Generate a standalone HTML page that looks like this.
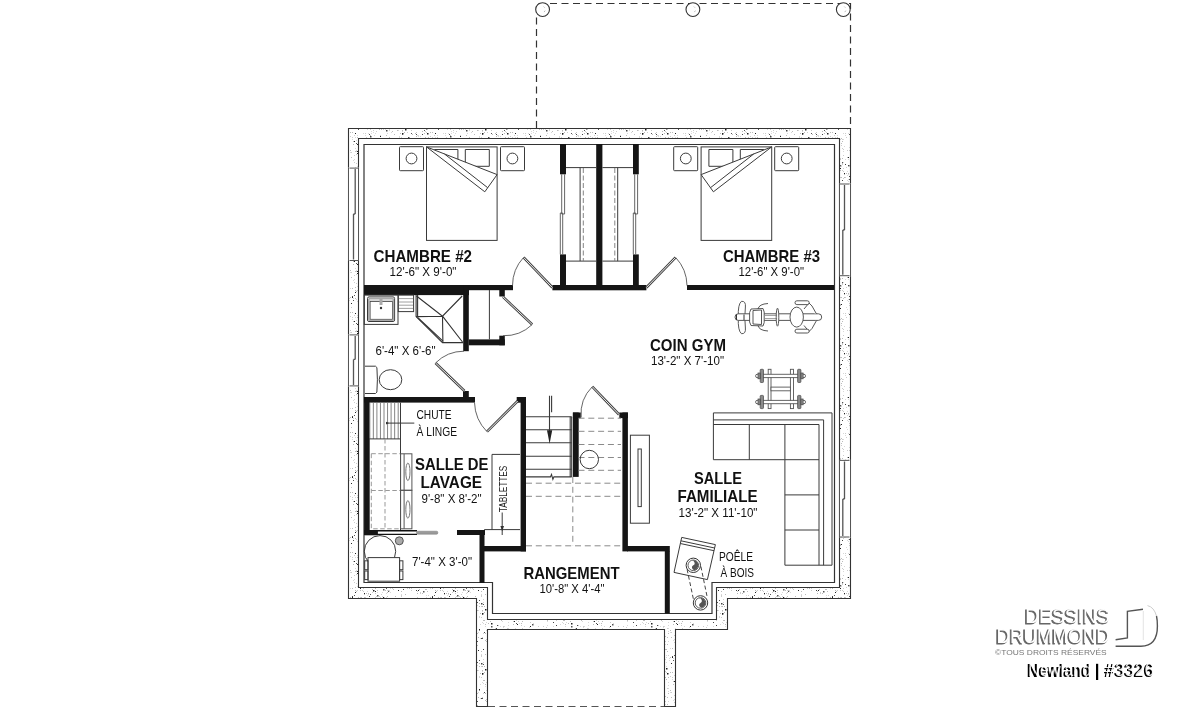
<!DOCTYPE html>
<html><head><meta charset="utf-8">
<style>
html,body{margin:0;padding:0;background:#fff;width:1200px;height:711px;overflow:hidden}
svg{position:absolute;left:0;top:0;will-change:transform}
text{font-family:"Liberation Sans",sans-serif}
.b{font-weight:bold;font-size:16.4px}
.d{font-size:12px}
.logo{position:absolute;font-family:"Liberation Sans",sans-serif}
</style></head><body>
<svg width="1200" height="711" viewBox="0 0 1200 711">
<defs>
<pattern id="conc" width="80" height="60" patternUnits="userSpaceOnUse">
<rect width="80" height="60" fill="#fff"/><rect x="57" y="55" width="1.5" height="1.5" fill="#555"/><rect x="57" y="32" width="1" height="1" fill="#555"/><rect x="23" y="51" width="1.5" height="1.5" fill="#555"/><rect x="78" y="50" width="1" height="1" fill="#222"/><rect x="57" y="19" width="1" height="1" fill="#222"/><rect x="68" y="51" width="1" height="1" fill="#555"/><rect x="76" y="25" width="1" height="1" fill="#444"/><rect x="79" y="0" width="1" height="1" fill="#555"/><rect x="7" y="2" width="1" height="1" fill="#222"/><rect x="76" y="1" width="1" height="1" fill="#444"/><rect x="56" y="37" width="1" height="1" fill="#222"/><rect x="37" y="31" width="1" height="1" fill="#222"/><rect x="58" y="41" width="1.5" height="1.5" fill="#444"/><rect x="70" y="59" width="1" height="1" fill="#222"/><rect x="40" y="48" width="1" height="1" fill="#222"/><rect x="3" y="4" width="1" height="1" fill="#555"/><rect x="51" y="6" width="1.5" height="1.5" fill="#444"/><rect x="8" y="1" width="1" height="1" fill="#555"/><rect x="27" y="13" width="1.5" height="1.5" fill="#222"/><rect x="48" y="45" width="1.5" height="1.5" fill="#444"/><rect x="9" y="36" width="1" height="1" fill="#555"/><rect x="34" y="21" width="1" height="1" fill="#222"/><rect x="42" y="0" width="1" height="1" fill="#444"/><rect x="17" y="15" width="1" height="1" fill="#555"/><rect x="1" y="3" width="1.5" height="1.5" fill="#444"/><rect x="22" y="43" width="1" height="1" fill="#555"/><rect x="57" y="32" width="1" height="1" fill="#222"/><rect x="53" y="41" width="1" height="1" fill="#444"/><rect x="50" y="26" width="1" height="1" fill="#222"/><rect x="34" y="55" width="1" height="1" fill="#555"/><rect x="2" y="13" width="1.5" height="1.5" fill="#222"/><rect x="77" y="41" width="1" height="1" fill="#555"/><rect x="5" y="9" width="1.5" height="1.5" fill="#222"/><rect x="33" y="0" width="1" height="1" fill="#555"/><rect x="37" y="24" width="1" height="1" fill="#222"/><rect x="11" y="13" width="1" height="1" fill="#555"/><rect x="1" y="38" width="1" height="1" fill="#444"/><rect x="79" y="29" width="1.5" height="1.5" fill="#222"/><rect x="73" y="8" width="1" height="1" fill="#444"/><rect x="19" y="19" width="1" height="1" fill="#222"/><rect x="24" y="10" width="1" height="1" fill="#555"/><rect x="49" y="56" width="1" height="1" fill="#444"/><rect x="53" y="3" width="1" height="1" fill="#222"/><rect x="4" y="32" width="1" height="1" fill="#444"/><rect x="50" y="16" width="1.5" height="1.5" fill="#444"/><rect x="37" y="33" width="1" height="1" fill="#222"/><rect x="16" y="14" width="1" height="1" fill="#444"/><rect x="35" y="13" width="1" height="1" fill="#222"/><rect x="8" y="17" width="1.5" height="1.5" fill="#444"/><rect x="31" y="3" width="1" height="1" fill="#222"/><rect x="36" y="23" width="1" height="1" fill="#555"/><rect x="11" y="23" width="1.5" height="1.5" fill="#222"/><rect x="42" y="42" width="1" height="1" fill="#555"/><rect x="75" y="2" width="1.5" height="1.5" fill="#222"/><rect x="45" y="44" width="1" height="1" fill="#444"/><rect x="2" y="38" width="1" height="1" fill="#555"/><rect x="61" y="4" width="1" height="1" fill="#555"/><rect x="40" y="8" width="1" height="1" fill="#222"/><rect x="57" y="34" width="1" height="1" fill="#444"/><rect x="16" y="50" width="1" height="1" fill="#444"/><rect x="10" y="43" width="1" height="1" fill="#444"/><rect x="53" y="50" width="1.5" height="1.5" fill="#222"/><rect x="73" y="0" width="1.5" height="1.5" fill="#555"/><rect x="48" y="37" width="1" height="1" fill="#222"/><rect x="10" y="5" width="1" height="1" fill="#555"/><rect x="32" y="56" width="1" height="1" fill="#444"/><rect x="49" y="59" width="1.5" height="1.5" fill="#555"/><rect x="56" y="29" width="1" height="1" fill="#555"/><rect x="66" y="48" width="1" height="1" fill="#555"/><rect x="39" y="38" width="1.5" height="1.5" fill="#222"/><rect x="2" y="14" width="1" height="1" fill="#555"/><rect x="63" y="49" width="1.5" height="1.5" fill="#555"/><rect x="32" y="57" width="1" height="1" fill="#222"/><rect x="38" y="9" width="1" height="1" fill="#555"/><rect x="66" y="10" width="1.5" height="1.5" fill="#444"/><rect x="63" y="57" width="1" height="1" fill="#222"/><rect x="51" y="42" width="1" height="1" fill="#444"/><rect x="55" y="51" width="1" height="1" fill="#222"/><rect x="49" y="14" width="1" height="1" fill="#555"/><rect x="26" y="8" width="1.5" height="1.5" fill="#222"/><rect x="44" y="53" width="1" height="1" fill="#222"/><rect x="35" y="52" width="1" height="1" fill="#222"/><rect x="57" y="30" width="1" height="1" fill="#444"/><rect x="52" y="24" width="1.5" height="1.5" fill="#555"/><rect x="40" y="45" width="1.5" height="1.5" fill="#555"/><rect x="41" y="4" width="1" height="1" fill="#222"/><rect x="77" y="2" width="1" height="1" fill="#555"/><rect x="73" y="22" width="1" height="1" fill="#444"/><rect x="17" y="25" width="1" height="1" fill="#444"/><rect x="3" y="49" width="1" height="1" fill="#444"/><rect x="18" y="50" width="1" height="1" fill="#222"/><rect x="57" y="6" width="1" height="1" fill="#555"/><rect x="9" y="43" width="1" height="1" fill="#222"/><rect x="60" y="16" width="1" height="1" fill="#222"/><rect x="60" y="34" width="1" height="1" fill="#555"/><rect x="22" y="14" width="1" height="1" fill="#444"/><rect x="69" y="44" width="1" height="1" fill="#555"/><rect x="50" y="54" width="1" height="1" fill="#555"/><rect x="11" y="26" width="1.5" height="1.5" fill="#555"/><rect x="16" y="28" width="1" height="1" fill="#444"/><rect x="0" y="24" width="1" height="1" fill="#d8d8d8"/><rect x="72" y="41" width="1" height="1" fill="#d8d8d8"/><rect x="43" y="29" width="1" height="1" fill="#ccc"/><rect x="26" y="6" width="1" height="1" fill="#d8d8d8"/><rect x="15" y="13" width="1" height="1" fill="#bbb"/><rect x="49" y="5" width="1" height="1" fill="#ccc"/><rect x="68" y="50" width="1" height="1" fill="#ccc"/><rect x="33" y="58" width="1" height="1" fill="#d8d8d8"/><rect x="2" y="22" width="1" height="1" fill="#d8d8d8"/><rect x="10" y="2" width="1" height="1" fill="#ccc"/><rect x="43" y="35" width="1" height="1" fill="#ccc"/><rect x="35" y="31" width="1" height="1" fill="#bbb"/><rect x="27" y="51" width="1" height="1" fill="#bbb"/><rect x="54" y="51" width="1" height="1" fill="#bbb"/><rect x="22" y="34" width="1" height="1" fill="#ccc"/><rect x="17" y="30" width="1" height="1" fill="#bbb"/><rect x="66" y="57" width="1" height="1" fill="#d8d8d8"/><rect x="66" y="53" width="1" height="1" fill="#d8d8d8"/><rect x="56" y="56" width="1" height="1" fill="#ccc"/><rect x="74" y="44" width="1" height="1" fill="#bbb"/><rect x="28" y="28" width="1" height="1" fill="#d8d8d8"/><rect x="71" y="18" width="1" height="1" fill="#d8d8d8"/><rect x="71" y="40" width="1" height="1" fill="#bbb"/><rect x="66" y="32" width="1" height="1" fill="#d8d8d8"/><rect x="32" y="19" width="1" height="1" fill="#d8d8d8"/><rect x="48" y="54" width="1" height="1" fill="#d8d8d8"/><rect x="26" y="19" width="1" height="1" fill="#bbb"/><rect x="69" y="33" width="1" height="1" fill="#ccc"/><rect x="73" y="31" width="1" height="1" fill="#bbb"/><rect x="52" y="34" width="1" height="1" fill="#bbb"/><rect x="64" y="0" width="1" height="1" fill="#d8d8d8"/><rect x="48" y="1" width="1" height="1" fill="#d8d8d8"/><rect x="5" y="33" width="1" height="1" fill="#ccc"/><rect x="69" y="51" width="1" height="1" fill="#d8d8d8"/><rect x="15" y="31" width="1" height="1" fill="#bbb"/><rect x="21" y="4" width="1" height="1" fill="#d8d8d8"/><rect x="58" y="26" width="1" height="1" fill="#ccc"/><rect x="34" y="15" width="1" height="1" fill="#ccc"/><rect x="63" y="8" width="1" height="1" fill="#ccc"/><rect x="55" y="57" width="1" height="1" fill="#ccc"/><rect x="67" y="20" width="1" height="1" fill="#bbb"/><rect x="24" y="26" width="1" height="1" fill="#d8d8d8"/><rect x="3" y="59" width="1" height="1" fill="#ccc"/><rect x="16" y="44" width="1" height="1" fill="#bbb"/><rect x="4" y="12" width="1" height="1" fill="#bbb"/><rect x="29" y="0" width="1" height="1" fill="#d8d8d8"/><rect x="36" y="20" width="1" height="1" fill="#d8d8d8"/><rect x="45" y="15" width="1" height="1" fill="#d8d8d8"/><rect x="63" y="6" width="1" height="1" fill="#ccc"/><rect x="74" y="7" width="1" height="1" fill="#d8d8d8"/><rect x="79" y="16" width="1" height="1" fill="#d8d8d8"/><rect x="25" y="44" width="1" height="1" fill="#d8d8d8"/><rect x="55" y="1" width="1" height="1" fill="#ccc"/><rect x="52" y="52" width="1" height="1" fill="#d8d8d8"/><rect x="78" y="10" width="1" height="1" fill="#d8d8d8"/><rect x="26" y="55" width="1" height="1" fill="#d8d8d8"/><rect x="68" y="40" width="1" height="1" fill="#bbb"/><rect x="67" y="13" width="1" height="1" fill="#d8d8d8"/><rect x="78" y="37" width="1" height="1" fill="#bbb"/><rect x="29" y="58" width="1" height="1" fill="#d8d8d8"/><rect x="44" y="57" width="1" height="1" fill="#bbb"/><rect x="40" y="38" width="1" height="1" fill="#ccc"/><rect x="24" y="13" width="1" height="1" fill="#bbb"/><rect x="12" y="8" width="1" height="1" fill="#bbb"/><rect x="16" y="46" width="1" height="1" fill="#bbb"/><rect x="33" y="24" width="1" height="1" fill="#bbb"/><rect x="55" y="53" width="1" height="1" fill="#ccc"/><rect x="69" y="50" width="1" height="1" fill="#d8d8d8"/><rect x="16" y="12" width="1" height="1" fill="#ccc"/><rect x="2" y="6" width="1" height="1" fill="#bbb"/><rect x="72" y="43" width="1" height="1" fill="#ccc"/><rect x="46" y="7" width="1" height="1" fill="#d8d8d8"/><rect x="64" y="40" width="1" height="1" fill="#ccc"/><rect x="64" y="43" width="1" height="1" fill="#bbb"/><rect x="9" y="30" width="1" height="1" fill="#bbb"/><rect x="3" y="2" width="1" height="1" fill="#d8d8d8"/><rect x="78" y="32" width="1" height="1" fill="#d8d8d8"/><rect x="61" y="9" width="1" height="1" fill="#bbb"/><rect x="23" y="7" width="1" height="1" fill="#bbb"/><rect x="22" y="53" width="1" height="1" fill="#bbb"/><rect x="36" y="59" width="1" height="1" fill="#d8d8d8"/><rect x="12" y="37" width="1" height="1" fill="#bbb"/><rect x="17" y="43" width="1" height="1" fill="#ccc"/><rect x="9" y="48" width="1" height="1" fill="#bbb"/><rect x="41" y="25" width="1" height="1" fill="#ccc"/><rect x="54" y="32" width="1" height="1" fill="#ccc"/><rect x="55" y="13" width="1" height="1" fill="#d8d8d8"/><rect x="47" y="0" width="1" height="1" fill="#d8d8d8"/><rect x="5" y="54" width="1" height="1" fill="#bbb"/><rect x="23" y="26" width="1" height="1" fill="#ccc"/><rect x="46" y="47" width="1" height="1" fill="#ccc"/><rect x="51" y="58" width="1" height="1" fill="#bbb"/><rect x="77" y="10" width="1" height="1" fill="#bbb"/><rect x="65" y="50" width="1" height="1" fill="#bbb"/><rect x="41" y="57" width="1" height="1" fill="#bbb"/><rect x="51" y="36" width="1" height="1" fill="#d8d8d8"/><rect x="24" y="32" width="1" height="1" fill="#d8d8d8"/><rect x="43" y="51" width="1" height="1" fill="#ccc"/><rect x="35" y="58" width="1" height="1" fill="#bbb"/><rect x="20" y="52" width="1" height="1" fill="#ccc"/><rect x="17" y="57" width="1" height="1" fill="#ccc"/><rect x="68" y="44" width="1" height="1" fill="#ccc"/><rect x="55" y="48" width="1" height="1" fill="#bbb"/><rect x="51" y="13" width="1" height="1" fill="#d8d8d8"/><rect x="23" y="4" width="1" height="1" fill="#ccc"/><rect x="38" y="30" width="1" height="1" fill="#bbb"/><rect x="1" y="56" width="1" height="1" fill="#ccc"/><rect x="79" y="3" width="1" height="1" fill="#bbb"/><rect x="34" y="42" width="1" height="1" fill="#ccc"/><rect x="43" y="13" width="1" height="1" fill="#d8d8d8"/><rect x="51" y="36" width="1" height="1" fill="#bbb"/><rect x="68" y="4" width="1" height="1" fill="#ccc"/><rect x="65" y="31" width="1" height="1" fill="#d8d8d8"/><rect x="27" y="44" width="1" height="1" fill="#bbb"/><rect x="50" y="36" width="1" height="1" fill="#bbb"/><rect x="14" y="39" width="1" height="1" fill="#bbb"/><rect x="30" y="16" width="1" height="1" fill="#ccc"/><rect x="51" y="32" width="1" height="1" fill="#bbb"/><rect x="25" y="41" width="1" height="1" fill="#ccc"/><rect x="1" y="6" width="1" height="1" fill="#ccc"/><rect x="32" y="17" width="1" height="1" fill="#ccc"/><rect x="70" y="34" width="1" height="1" fill="#d8d8d8"/><rect x="53" y="33" width="1" height="1" fill="#d8d8d8"/><rect x="12" y="40" width="1" height="1" fill="#ccc"/><rect x="9" y="35" width="1" height="1" fill="#d8d8d8"/><rect x="5" y="24" width="1" height="1" fill="#bbb"/><rect x="49" y="30" width="1" height="1" fill="#bbb"/><rect x="63" y="34" width="1" height="1" fill="#d8d8d8"/><rect x="76" y="3" width="1" height="1" fill="#ccc"/><rect x="63" y="26" width="1" height="1" fill="#ccc"/><rect x="67" y="25" width="1" height="1" fill="#d8d8d8"/><rect x="39" y="23" width="1" height="1" fill="#d8d8d8"/><rect x="36" y="30" width="1" height="1" fill="#d8d8d8"/><rect x="34" y="35" width="1" height="1" fill="#ccc"/><rect x="37" y="1" width="1" height="1" fill="#bbb"/><rect x="31" y="37" width="1" height="1" fill="#bbb"/><rect x="20" y="26" width="1" height="1" fill="#d8d8d8"/><rect x="49" y="3" width="1" height="1" fill="#ccc"/><rect x="50" y="3" width="1" height="1" fill="#d8d8d8"/><rect x="40" y="4" width="1" height="1" fill="#bbb"/><rect x="54" y="46" width="1" height="1" fill="#ccc"/><rect x="32" y="48" width="1" height="1" fill="#bbb"/><rect x="5" y="33" width="1" height="1" fill="#bbb"/><rect x="59" y="9" width="1" height="1" fill="#bbb"/><rect x="77" y="45" width="1" height="1" fill="#bbb"/><rect x="6" y="39" width="1" height="1" fill="#ccc"/><rect x="58" y="7" width="1" height="1" fill="#bbb"/><rect x="6" y="22" width="1" height="1" fill="#d8d8d8"/><rect x="19" y="7" width="1" height="1" fill="#ccc"/><rect x="56" y="8" width="1" height="1" fill="#d8d8d8"/><rect x="53" y="29" width="1" height="1" fill="#d8d8d8"/><rect x="33" y="40" width="1" height="1" fill="#d8d8d8"/><rect x="53" y="23" width="1" height="1" fill="#d8d8d8"/><rect x="67" y="52" width="1" height="1" fill="#bbb"/><rect x="37" y="46" width="1" height="1" fill="#bbb"/><rect x="30" y="30" width="1" height="1" fill="#bbb"/><rect x="64" y="57" width="1" height="1" fill="#ccc"/><rect x="64" y="39" width="1" height="1" fill="#ccc"/><rect x="35" y="17" width="1" height="1" fill="#d8d8d8"/><rect x="72" y="44" width="1" height="1" fill="#d8d8d8"/><rect x="24" y="40" width="1" height="1" fill="#ccc"/><rect x="30" y="12" width="1" height="1" fill="#bbb"/><rect x="64" y="41" width="1" height="1" fill="#bbb"/><rect x="5" y="40" width="1" height="1" fill="#bbb"/><rect x="1" y="17" width="1" height="1" fill="#ccc"/><rect x="54" y="1" width="1" height="1" fill="#d8d8d8"/><rect x="4" y="6" width="1" height="1" fill="#bbb"/><rect x="69" y="17" width="1" height="1" fill="#bbb"/><rect x="11" y="58" width="1" height="1" fill="#d8d8d8"/><rect x="20" y="35" width="1" height="1" fill="#bbb"/><rect x="47" y="30" width="1" height="1" fill="#ccc"/><rect x="45" y="13" width="1" height="1" fill="#ccc"/><rect x="43" y="31" width="1" height="1" fill="#d8d8d8"/><rect x="17" y="53" width="1" height="1" fill="#bbb"/><rect x="15" y="28" width="1" height="1" fill="#d8d8d8"/><rect x="27" y="28" width="1" height="1" fill="#ccc"/><rect x="33" y="24" width="1" height="1" fill="#bbb"/><rect x="47" y="9" width="1" height="1" fill="#d8d8d8"/><rect x="76" y="20" width="1" height="1" fill="#ccc"/><rect x="70" y="48" width="1" height="1" fill="#d8d8d8"/><rect x="23" y="27" width="1" height="1" fill="#d8d8d8"/><rect x="47" y="37" width="1" height="1" fill="#bbb"/><rect x="59" y="56" width="1" height="1" fill="#ccc"/><rect x="10" y="34" width="1" height="1" fill="#bbb"/><rect x="55" y="36" width="1" height="1" fill="#d8d8d8"/><rect x="62" y="52" width="1" height="1" fill="#d8d8d8"/><rect x="59" y="19" width="1" height="1" fill="#bbb"/><rect x="9" y="19" width="1" height="1" fill="#bbb"/><rect x="77" y="5" width="1" height="1" fill="#d8d8d8"/><rect x="38" y="31" width="1" height="1" fill="#d8d8d8"/><rect x="41" y="18" width="1" height="1" fill="#bbb"/><rect x="28" y="22" width="1" height="1" fill="#d8d8d8"/><rect x="41" y="23" width="1" height="1" fill="#bbb"/><rect x="41" y="45" width="1" height="1" fill="#ccc"/><rect x="72" y="38" width="1" height="1" fill="#d8d8d8"/><rect x="35" y="28" width="1" height="1" fill="#d8d8d8"/><rect x="39" y="29" width="1" height="1" fill="#ccc"/><rect x="28" y="25" width="1" height="1" fill="#d8d8d8"/><rect x="66" y="15" width="1" height="1" fill="#bbb"/><rect x="46" y="53" width="1" height="1" fill="#ccc"/><rect x="3" y="23" width="1" height="1" fill="#d8d8d8"/><rect x="50" y="37" width="1" height="1" fill="#ccc"/><rect x="24" y="47" width="1" height="1" fill="#d8d8d8"/><rect x="47" y="51" width="1" height="1" fill="#ccc"/><rect x="69" y="9" width="1" height="1" fill="#d8d8d8"/><rect x="72" y="11" width="1" height="1" fill="#bbb"/><rect x="11" y="48" width="1" height="1" fill="#ccc"/><rect x="36" y="51" width="1" height="1" fill="#bbb"/><rect x="28" y="33" width="1" height="1" fill="#bbb"/><rect x="69" y="10" width="1" height="1" fill="#d8d8d8"/><rect x="37" y="1" width="1" height="1" fill="#d8d8d8"/><rect x="54" y="4" width="1" height="1" fill="#d8d8d8"/><rect x="69" y="19" width="1" height="1" fill="#d8d8d8"/><rect x="10" y="21" width="1" height="1" fill="#bbb"/><rect x="35" y="47" width="1" height="1" fill="#bbb"/><rect x="40" y="5" width="1" height="1" fill="#bbb"/><rect x="18" y="6" width="1" height="1" fill="#d8d8d8"/><rect x="54" y="15" width="1" height="1" fill="#d8d8d8"/><rect x="28" y="31" width="1" height="1" fill="#d8d8d8"/><rect x="43" y="48" width="1" height="1" fill="#ccc"/><rect x="50" y="22" width="1" height="1" fill="#ccc"/><rect x="42" y="43" width="1" height="1" fill="#bbb"/><rect x="63" y="31" width="1" height="1" fill="#d8d8d8"/><rect x="9" y="45" width="1" height="1" fill="#d8d8d8"/><rect x="5" y="26" width="1" height="1" fill="#d8d8d8"/><rect x="44" y="54" width="1" height="1" fill="#bbb"/><rect x="48" y="53" width="1" height="1" fill="#bbb"/><rect x="59" y="34" width="1" height="1" fill="#d8d8d8"/><rect x="3" y="33" width="1" height="1" fill="#ccc"/><rect x="1" y="51" width="1" height="1" fill="#bbb"/><rect x="53" y="59" width="1" height="1" fill="#ccc"/><rect x="18" y="15" width="1" height="1" fill="#d8d8d8"/><rect x="20" y="40" width="1" height="1" fill="#ccc"/><rect x="21" y="20" width="1" height="1" fill="#bbb"/><rect x="49" y="27" width="1" height="1" fill="#d8d8d8"/><rect x="37" y="17" width="1" height="1" fill="#bbb"/><rect x="60" y="19" width="1" height="1" fill="#d8d8d8"/><rect x="14" y="19" width="1" height="1" fill="#d8d8d8"/><rect x="19" y="49" width="1" height="1" fill="#bbb"/><rect x="7" y="48" width="1" height="1" fill="#ccc"/><rect x="2" y="37" width="1" height="1" fill="#ccc"/><rect x="4" y="20" width="1" height="1" fill="#bbb"/><rect x="25" y="11" width="1" height="1" fill="#ccc"/><rect x="27" y="37" width="1" height="1" fill="#bbb"/><rect x="76" y="45" width="1" height="1" fill="#ccc"/><rect x="76" y="32" width="1" height="1" fill="#bbb"/><rect x="56" y="11" width="1" height="1" fill="#ccc"/><rect x="51" y="11" width="1" height="1" fill="#ccc"/><rect x="70" y="52" width="1" height="1" fill="#d8d8d8"/><rect x="61" y="54" width="1" height="1" fill="#ccc"/><rect x="62" y="56" width="1" height="1" fill="#ccc"/><rect x="43" y="42" width="1" height="1" fill="#d8d8d8"/><rect x="11" y="30" width="1" height="1" fill="#bbb"/><rect x="51" y="3" width="1" height="1" fill="#bbb"/><rect x="17" y="51" width="1" height="1" fill="#ccc"/><rect x="67" y="50" width="1" height="1" fill="#d8d8d8"/><rect x="35" y="50" width="1" height="1" fill="#bbb"/><rect x="30" y="57" width="1" height="1" fill="#bbb"/><rect x="60" y="57" width="1" height="1" fill="#ccc"/><rect x="57" y="50" width="1" height="1" fill="#bbb"/><rect x="53" y="38" width="1" height="1" fill="#bbb"/><rect x="53" y="10" width="1" height="1" fill="#ccc"/><rect x="18" y="16" width="1" height="1" fill="#d8d8d8"/><rect x="16" y="40" width="1" height="1" fill="#d8d8d8"/><rect x="79" y="17" width="1" height="1" fill="#d8d8d8"/><rect x="68" y="3" width="1" height="1" fill="#bbb"/><rect x="73" y="49" width="1" height="1" fill="#bbb"/><rect x="0" y="13" width="1" height="1" fill="#bbb"/><rect x="16" y="5" width="1" height="1" fill="#ccc"/><rect x="34" y="39" width="1" height="1" fill="#d8d8d8"/><rect x="67" y="6" width="1" height="1" fill="#ccc"/><rect x="59" y="5" width="1" height="1" fill="#d8d8d8"/><rect x="75" y="34" width="1" height="1" fill="#d8d8d8"/><rect x="38" y="1" width="1" height="1" fill="#bbb"/><rect x="53" y="12" width="1" height="1" fill="#d8d8d8"/><rect x="11" y="50" width="1" height="1" fill="#ccc"/><rect x="26" y="2" width="1" height="1" fill="#d8d8d8"/><rect x="52" y="33" width="1" height="1" fill="#ccc"/><rect x="20" y="53" width="1" height="1" fill="#ccc"/><rect x="40" y="19" width="1" height="1" fill="#ccc"/><rect x="9" y="35" width="1" height="1" fill="#ccc"/><rect x="59" y="42" width="1" height="1" fill="#d8d8d8"/><rect x="8" y="23" width="1" height="1" fill="#bbb"/><rect x="17" y="6" width="1" height="1" fill="#d8d8d8"/><rect x="50" y="43" width="1" height="1" fill="#ccc"/><rect x="15" y="41" width="1" height="1" fill="#ccc"/><rect x="1" y="55" width="1" height="1" fill="#ccc"/><rect x="60" y="15" width="1" height="1" fill="#ccc"/><rect x="72" y="7" width="1" height="1" fill="#ccc"/><rect x="1" y="54" width="1" height="1" fill="#d8d8d8"/><rect x="26" y="57" width="1" height="1" fill="#d8d8d8"/><rect x="19" y="18" width="1" height="1" fill="#d8d8d8"/><rect x="48" y="59" width="1" height="1" fill="#d8d8d8"/><rect x="38" y="21" width="1" height="1" fill="#ccc"/><rect x="71" y="42" width="1" height="1" fill="#bbb"/><rect x="32" y="12" width="1" height="1" fill="#bbb"/><rect x="48" y="46" width="1" height="1" fill="#bbb"/><rect x="42" y="19" width="1" height="1" fill="#ccc"/><rect x="72" y="30" width="1" height="1" fill="#d8d8d8"/><rect x="42" y="28" width="1" height="1" fill="#ccc"/><rect x="11" y="6" width="1" height="1" fill="#bbb"/><rect x="79" y="6" width="1" height="1" fill="#bbb"/><rect x="22" y="11" width="1" height="1" fill="#bbb"/><rect x="51" y="2" width="1" height="1" fill="#ccc"/><rect x="75" y="45" width="1" height="1" fill="#bbb"/><rect x="12" y="14" width="1" height="1" fill="#bbb"/><rect x="20" y="7" width="1" height="1" fill="#ccc"/><rect x="52" y="49" width="1" height="1" fill="#bbb"/><rect x="43" y="58" width="1" height="1" fill="#ccc"/><rect x="65" y="8" width="1" height="1" fill="#d8d8d8"/><rect x="26" y="49" width="1" height="1" fill="#bbb"/><rect x="49" y="30" width="1" height="1" fill="#ccc"/><rect x="52" y="39" width="1" height="1" fill="#bbb"/><rect x="51" y="39" width="1" height="1" fill="#d8d8d8"/><rect x="40" y="50" width="1" height="1" fill="#bbb"/><rect x="77" y="33" width="1" height="1" fill="#bbb"/><rect x="33" y="21" width="1" height="1" fill="#bbb"/><rect x="43" y="19" width="1" height="1" fill="#d8d8d8"/><rect x="56" y="6" width="1" height="1" fill="#d8d8d8"/><rect x="48" y="13" width="1" height="1" fill="#d8d8d8"/><rect x="42" y="50" width="1" height="1" fill="#ccc"/><rect x="13" y="39" width="1" height="1" fill="#d8d8d8"/><rect x="20" y="16" width="1" height="1" fill="#d8d8d8"/><rect x="38" y="35" width="1" height="1" fill="#bbb"/><rect x="45" y="39" width="1" height="1" fill="#d8d8d8"/><rect x="65" y="9" width="1" height="1" fill="#d8d8d8"/><rect x="25" y="59" width="1" height="1" fill="#d8d8d8"/><rect x="25" y="36" width="1" height="1" fill="#bbb"/><rect x="25" y="49" width="1" height="1" fill="#bbb"/><rect x="17" y="15" width="1" height="1" fill="#ccc"/><rect x="73" y="26" width="1" height="1" fill="#d8d8d8"/><rect x="42" y="21" width="1" height="1" fill="#bbb"/><rect x="46" y="17" width="1" height="1" fill="#ccc"/><rect x="15" y="28" width="1" height="1" fill="#d8d8d8"/><rect x="17" y="15" width="1" height="1" fill="#d8d8d8"/><rect x="69" y="34" width="1" height="1" fill="#d8d8d8"/><rect x="8" y="35" width="1" height="1" fill="#ccc"/><rect x="21" y="58" width="1" height="1" fill="#d8d8d8"/><rect x="42" y="38" width="1" height="1" fill="#bbb"/><rect x="15" y="59" width="1" height="1" fill="#bbb"/><rect x="36" y="43" width="1" height="1" fill="#ccc"/><rect x="30" y="48" width="1" height="1" fill="#d8d8d8"/><rect x="46" y="53" width="1" height="1" fill="#bbb"/><rect x="23" y="38" width="1" height="1" fill="#d8d8d8"/><rect x="9" y="29" width="1" height="1" fill="#bbb"/><rect x="51" y="11" width="1" height="1" fill="#d8d8d8"/><rect x="17" y="19" width="1" height="1" fill="#d8d8d8"/><rect x="48" y="39" width="1" height="1" fill="#d8d8d8"/><rect x="2" y="10" width="1" height="1" fill="#bbb"/><rect x="52" y="29" width="1" height="1" fill="#bbb"/><rect x="18" y="33" width="1" height="1" fill="#ccc"/><rect x="15" y="36" width="1" height="1" fill="#ccc"/><rect x="22" y="21" width="1" height="1" fill="#d8d8d8"/><rect x="16" y="16" width="1" height="1" fill="#bbb"/><rect x="72" y="59" width="1" height="1" fill="#ccc"/><rect x="6" y="41" width="1" height="1" fill="#bbb"/><rect x="18" y="25" width="1" height="1" fill="#ccc"/><rect x="76" y="6" width="1" height="1" fill="#ccc"/><rect x="44" y="26" width="1" height="1" fill="#d8d8d8"/><rect x="72" y="48" width="1" height="1" fill="#ccc"/><rect x="36" y="31" width="1" height="1" fill="#ccc"/><rect x="52" y="52" width="1" height="1" fill="#ccc"/><rect x="15" y="36" width="1" height="1" fill="#bbb"/><rect x="67" y="21" width="1" height="1" fill="#d8d8d8"/><rect x="66" y="27" width="1" height="1" fill="#ccc"/><rect x="3" y="20" width="1" height="1" fill="#bbb"/><rect x="37" y="46" width="1" height="1" fill="#d8d8d8"/><rect x="55" y="46" width="1" height="1" fill="#ccc"/><rect x="76" y="20" width="1" height="1" fill="#ccc"/><rect x="75" y="56" width="1" height="1" fill="#bbb"/><rect x="31" y="7" width="1" height="1" fill="#ccc"/><rect x="31" y="32" width="1" height="1" fill="#ccc"/><rect x="6" y="30" width="1" height="1" fill="#d8d8d8"/><rect x="13" y="33" width="1" height="1" fill="#bbb"/><rect x="69" y="19" width="1" height="1" fill="#d8d8d8"/><rect x="50" y="15" width="1" height="1" fill="#bbb"/><rect x="47" y="55" width="1" height="1" fill="#d8d8d8"/><rect x="53" y="36" width="1" height="1" fill="#bbb"/><rect x="28" y="41" width="1" height="1" fill="#d8d8d8"/><rect x="53" y="36" width="1" height="1" fill="#bbb"/><rect x="9" y="6" width="1" height="1" fill="#d8d8d8"/><rect x="16" y="7" width="1" height="1" fill="#d8d8d8"/><rect x="73" y="29" width="1" height="1" fill="#bbb"/><rect x="37" y="15" width="1" height="1" fill="#d8d8d8"/><rect x="38" y="1" width="1" height="1" fill="#ccc"/><rect x="22" y="4" width="1" height="1" fill="#ccc"/><rect x="57" y="52" width="1" height="1" fill="#d8d8d8"/><rect x="50" y="9" width="1" height="1" fill="#ccc"/><rect x="74" y="14" width="1" height="1" fill="#bbb"/><rect x="39" y="1" width="1" height="1" fill="#ccc"/><rect x="40" y="19" width="1" height="1" fill="#ccc"/><rect x="63" y="9" width="1" height="1" fill="#ccc"/><rect x="26" y="12" width="1" height="1" fill="#ccc"/><rect x="7" y="12" width="1" height="1" fill="#ccc"/><rect x="45" y="57" width="1" height="1" fill="#ccc"/><rect x="2" y="11" width="1" height="1" fill="#d8d8d8"/><rect x="71" y="12" width="1" height="1" fill="#d8d8d8"/><rect x="30" y="12" width="1" height="1" fill="#bbb"/><rect x="13" y="19" width="1" height="1" fill="#d8d8d8"/><rect x="40" y="57" width="1" height="1" fill="#ccc"/><rect x="53" y="45" width="1" height="1" fill="#bbb"/><rect x="42" y="44" width="1" height="1" fill="#ccc"/><rect x="53" y="5" width="1" height="1" fill="#bbb"/><rect x="28" y="55" width="1" height="1" fill="#ccc"/><rect x="15" y="45" width="1" height="1" fill="#d8d8d8"/><rect x="25" y="17" width="1" height="1" fill="#bbb"/><rect x="30" y="32" width="1" height="1" fill="#d8d8d8"/><rect x="37" y="50" width="1" height="1" fill="#ccc"/><rect x="47" y="51" width="1" height="1" fill="#d8d8d8"/><rect x="67" y="56" width="1" height="1" fill="#bbb"/><rect x="75" y="33" width="1" height="1" fill="#bbb"/><rect x="38" y="57" width="1" height="1" fill="#bbb"/><rect x="28" y="17" width="1" height="1" fill="#bbb"/><rect x="11" y="29" width="1" height="1" fill="#bbb"/><rect x="56" y="58" width="1" height="1" fill="#d8d8d8"/><rect x="9" y="33" width="1" height="1" fill="#bbb"/><rect x="0" y="38" width="1" height="1" fill="#d8d8d8"/><rect x="36" y="34" width="1" height="1" fill="#ccc"/><rect x="54" y="51" width="1" height="1" fill="#d8d8d8"/><rect x="11" y="10" width="1" height="1" fill="#ccc"/>
</pattern>
</defs>
<path fill="none" stroke="#333" stroke-width="1.2" stroke-dasharray="7 4.5" d="M536.5 128 V3.5 H850.5 V128"/>
<circle cx="542.6" cy="9.6" r="6.9" fill="#fff" stroke="#333" stroke-width="1.1"/>
<path d="M543.6 6.6 l1 1 M545.1 10.6 l-1 1.5" stroke="#aaa" stroke-width="0.8"/>
<circle cx="692.9" cy="9.6" r="6.9" fill="#fff" stroke="#333" stroke-width="1.1"/>
<path d="M693.9 6.6 l1 1 M695.4 10.6 l-1 1.5" stroke="#aaa" stroke-width="0.8"/>
<circle cx="843.3" cy="9.6" r="6.9" fill="#fff" stroke="#333" stroke-width="1.1"/>
<path d="M844.3 6.6 l1 1 M845.8 10.6 l-1 1.5" stroke="#aaa" stroke-width="0.8"/>
<path fill="url(#conc)" fill-rule="evenodd" stroke="#333" stroke-width="1.1" d="M348.5 128.5 H850.5 V598.5 H727.5 V629.5 H675.5 V706.5 H664.5 V629.5 H487.5 V706.5 H476.5 V598.5 H348.5 Z M358.5 138.5 H839.5 V587.5 H716.5 V619.5 H487.5 V587.5 H358.5 Z"/>
<rect x="347.5" y="167.6" width="12" height="93.4" fill="#fff"/>
<path fill="none" stroke="#555" stroke-width="1" d="M348.5 167.6 V261 M358.5 167.6 V261 M349.5 168.1 H358 M349.5 260.5 H358"/>
<path fill="none" stroke="#555" stroke-width="1.3" d="M355.2 169.1 V214 M353.5 214 V259.5 M353.5 214 H355.2"/>
<rect x="347.5" y="334.4" width="12" height="52.0" fill="#fff"/>
<path fill="none" stroke="#555" stroke-width="1" d="M348.5 334.4 V386.4 M358.5 334.4 V386.4 M349.5 334.9 H358 M349.5 385.9 H358"/>
<path fill="none" stroke="#555" stroke-width="1.3" d="M355.2 335.9 V359.4 M353.5 359.4 V384.9 M353.5 359.4 H355.2"/>
<rect x="839.5" y="183.5" width="12" height="92.69999999999999" fill="#fff"/>
<path fill="none" stroke="#555" stroke-width="1" d="M850.5 183.5 V276.2 M839.5 183.5 V276.2 M840 184.0 H849.5 M840 275.7 H849.5"/>
<path fill="none" stroke="#555" stroke-width="1.3" d="M844.5 185.0 V230 M842.8 230 V274.7 M842.8 230 H844.5"/>
<rect x="839.5" y="459.9" width="12" height="77.60000000000002" fill="#fff"/>
<path fill="none" stroke="#555" stroke-width="1" d="M850.5 459.9 V537.5 M839.5 459.9 V537.5 M840 460.4 H849.5 M840 537.0 H849.5"/>
<path fill="none" stroke="#555" stroke-width="1.3" d="M844.5 461.4 V499 M842.8 499 V536.0 M842.8 499 H844.5"/>
<path fill="none" stroke="#333" stroke-width="1.2" d="M364 144.5 H834.5 V582.5 H712 V613.5 H492.5 V582.5 H364 Z"/>
<path fill="none" stroke="#555" stroke-width="1" stroke-dasharray="7 4.5" d="M488 706.5 H664"/>
<g fill="#151515"><rect x="364" y="285" width="105.00" height="10.10"/><rect x="469" y="285" width="44.00" height="5.20"/><rect x="552.4" y="285" width="94.00" height="5.30"/><rect x="687" y="285" width="147.00" height="5.00"/><rect x="560" y="144" width="6.00" height="30.30"/><rect x="560" y="254.4" width="6.00" height="35.60"/><rect x="596.2" y="144" width="6.20" height="146.00"/><rect x="633" y="144" width="5.80" height="30.30"/><rect x="633" y="254.4" width="5.80" height="35.60"/><rect x="463.2" y="285" width="5.60" height="66.20"/><rect x="468.8" y="339.4" width="36.00" height="5.90"/><rect x="499.3" y="290" width="5.50" height="6.50"/><rect x="499.3" y="335.7" width="5.50" height="9.60"/><rect x="364" y="397" width="111.00" height="5.60"/><rect x="463" y="391" width="5.80" height="6.00"/><rect x="364.1" y="397" width="5.60" height="138.00"/><rect x="520.6" y="397.2" width="5.40" height="154.20"/><rect x="516.7" y="397" width="9.30" height="5.70"/><rect x="364.3" y="530" width="11.70" height="5.00"/><rect x="457" y="530" width="28.00" height="5.00"/><rect x="479.5" y="530" width="5.00" height="53.00"/><rect x="484" y="546" width="42.00" height="5.40"/><rect x="572.9" y="412.5" width="5.80" height="64.40"/><rect x="572.9" y="412.5" width="7.90" height="5.70"/><rect x="622.4" y="412.5" width="5.50" height="138.90"/><rect x="619.3" y="412.5" width="8.60" height="5.60"/><rect x="627" y="546" width="42.80" height="5.40"/><rect x="664.8" y="551" width="5.00" height="62.50"/></g>
<path d="M552.4 287.5 L523.6 257.4" stroke="#444" stroke-width="2.6" stroke-linecap="butt"/>
<path d="M552.4 287.5 L523.6 257.4" stroke="#fff" stroke-width="0.9"/>
<path fill="none" stroke="#555" stroke-width="0.9" d="M523.6 257.4 A41.7 41.7 0 0 0 512.5 285.6"/>
<path d="M646.4 287.5 L675.6 257.4" stroke="#444" stroke-width="2.6" stroke-linecap="butt"/>
<path d="M646.4 287.5 L675.6 257.4" stroke="#fff" stroke-width="0.9"/>
<path fill="none" stroke="#555" stroke-width="0.9" d="M675.6 257.4 A41.9 41.9 0 0 1 687 285.6"/>
<path d="M503 296.9 L532.2 324.5" stroke="#444" stroke-width="2.6" stroke-linecap="butt"/>
<path d="M503 296.9 L532.2 324.5" stroke="#fff" stroke-width="0.9"/>
<path fill="none" stroke="#555" stroke-width="0.9" d="M532.2 324.5 A40.2 40.2 0 0 1 503 335.7"/>
<path d="M464.5 391 L435.5 363" stroke="#444" stroke-width="2.6" stroke-linecap="butt"/>
<path d="M464.5 391 L435.5 363" stroke="#fff" stroke-width="0.9"/>
<path fill="none" stroke="#555" stroke-width="0.9" d="M435.5 363 A40.3 40.3 0 0 1 464 351.2"/>
<path d="M517.7 401 L487 431.7" stroke="#444" stroke-width="2.6" stroke-linecap="butt"/>
<path d="M517.7 401 L487 431.7" stroke="#fff" stroke-width="0.9"/>
<path fill="none" stroke="#555" stroke-width="0.9" d="M487 431.7 A43.4 43.4 0 0 1 474.5 402.6"/>
<path d="M619 414.5 L592.3 386.7" stroke="#444" stroke-width="2.6" stroke-linecap="butt"/>
<path d="M619 414.5 L592.3 386.7" stroke="#fff" stroke-width="0.9"/>
<path fill="none" stroke="#555" stroke-width="0.9" d="M592.3 386.7 A38.5 38.5 0 0 0 581.2 417.5"/>
<g transform="" fill="none" stroke="#3a3a3a" stroke-width="1"><rect x="399.5" y="146.7" width="24" height="24" rx="0.8"/><circle cx="411.5" cy="158.5" r="5.4"/><rect x="500.5" y="146.7" width="24" height="24" rx="0.8"/><circle cx="512.4" cy="158.5" r="5.4"/><rect x="426.5" y="146.9" width="70.6" height="93.5"/><path d="M465.3 149.5 H489.3 V166.3 H465.3 Z"/><path d="M434.3 149.5 H457.9 V160"/><path fill="#fff" d="M426.5 146.9 L497.1 174.6 L484.8 191.8 Z"/><path d="M444.5 154 L487.7 187.7"/></g>
<g transform="translate(1198.2 0) scale(-1 1)" fill="none" stroke="#3a3a3a" stroke-width="1"><rect x="399.5" y="146.7" width="24" height="24" rx="0.8"/><circle cx="411.5" cy="158.5" r="5.4"/><rect x="500.5" y="146.7" width="24" height="24" rx="0.8"/><circle cx="512.4" cy="158.5" r="5.4"/><rect x="426.5" y="146.9" width="70.6" height="93.5"/><path d="M465.3 149.5 H489.3 V166.3 H465.3 Z"/><path d="M434.3 149.5 H457.9 V160"/><path fill="#fff" d="M426.5 146.9 L497.1 174.6 L484.8 191.8 Z"/><path d="M444.5 154 L487.7 187.7"/></g>
<g fill="none" stroke="#3a3a3a" stroke-width="1"><path d="M566 167.6 H596.2 M566 261.1 H596.2 M602.4 167.6 H633 M602.4 261.1 H633"/><path d="M580.1 167.6 V261.1 M617.7 167.6 V261.1"/></g>
<path fill="none" stroke="#777" stroke-width="0.9" stroke-dasharray="5 2.5" d="M583.3 168 V261 M614.8 168 V261"/>
<path fill="none" stroke="#555" stroke-width="0.9" d="M561.7 174.3 V214 H564.6 V174.3 M560.3 213 V254.4 M562.7 213 V254.4 M560.3 213 H562.7"/>
<path fill="none" stroke="#555" stroke-width="0.9" d="M634.7 174.3 V214 H637.6 V174.3 M633.3 213 V254.4 M635.7 213 V254.4 M633.3 213 H635.7"/>
<g fill="none" stroke="#3a3a3a" stroke-width="1"><rect x="364.3" y="295.1" width="33.7" height="29.3"/><rect x="367.5" y="296.9" width="27.1" height="24.6" rx="1.5"/><rect x="370" y="301.3" width="22.5" height="18.1"/><rect x="398.3" y="295.1" width="15.3" height="16.5"/></g>
<path fill="none" stroke="#aaa" stroke-width="1.6" d="M369 320.3 H393.5 M368.8 298.5 V320.5 M393.3 298.5 V320.5 M369 298.8 H393.5"/>
<path fill="none" stroke="#888" stroke-width="0.8" d="M399 298.6 H413 M399 302 H413 M399 305.2 H413 M399 308.4 H413"/>
<rect x="379.5" y="299" width="3" height="6" fill="#aaa"/><circle cx="381" cy="308" r="1.2" fill="#333"/>
<g fill="none" stroke="#333" stroke-width="1.1"><path d="M416.1 295.1 V316.6 L442.5 342.6 H463.2"/><path d="M417.6 295.1 V316 M417.6 317.5 L443 341.2"/><path d="M416.5 296 L442.5 316.2 L462.2 296 M416.1 316.6 L442.5 316.2 L442.9 342.6 M442.5 316.2 L462.5 342"/></g>
<g fill="none" stroke="#3a3a3a" stroke-width="1"><path d="M365 366.2 H375.5 Q377.5 367 377 370 Q377.8 380 377 389 Q377.5 393 375.5 393.5 H365"/><ellipse cx="390.5" cy="379.7" rx="11.3" ry="10"/></g>
<path stroke="#3a3a3a" stroke-width="1" d="M489.4 290 V339.4"/>
<g fill="none" stroke="#777" stroke-width="0.9"><path d="M369.80 402.6 V438.9"/><path d="M373.35 402.6 V438.9"/><path d="M376.90 402.6 V438.9"/><path d="M380.45 402.6 V438.9"/><path d="M384.00 402.6 V438.9"/><path d="M387.55 402.6 V438.9"/><path d="M391.10 402.6 V438.9"/><path d="M394.65 402.6 V438.9"/><path d="M398.20 402.6 V438.9"/></g>
<g fill="none" stroke="#3a3a3a" stroke-width="1"><path d="M369 438.9 H400.5 M400.5 402.6 V530"/><path d="M386.4 423.1 H414.3"/></g>
<path d="M386 421.8 l3 1.3 l-3 1.3 z" fill="#333"/>
<path fill="none" stroke="#999" stroke-width="1" stroke-dasharray="4.5 2.5" d="M385 439 V530 M371.3 453.7 H400 M371.3 490.5 H400 M371.3 453.7 V528.8 H400"/>
<g fill="none" stroke="#555" stroke-width="1"><rect x="400.6" y="453.8" width="11.3" height="36.5"/><rect x="400.6" y="490.3" width="11.3" height="38.5"/><path d="M404.1 453.8 V528.8"/><ellipse cx="407.9" cy="471.8" rx="2.1" ry="8.8" stroke="#777"/><ellipse cx="407.9" cy="509.4" rx="2.1" ry="8.8" stroke="#777"/></g>
<g fill="none" stroke="#3a3a3a" stroke-width="1"><path d="M520 454.4 H492 V529.6 M484.2 529.6 H520"/><path d="M502.2 512.5 V535"/></g>
<path d="M500.4 526 L502.2 531.5 L504 526 Z" fill="#333"/>
<text transform="translate(506.9 512.3) rotate(-90)" font-size="10.8" textLength="46.6" lengthAdjust="spacingAndGlyphs" fill="#222">TABLETTES</text>
<path stroke="#111" stroke-width="1.4" d="M376 530.7 H417 M376 534.4 H417"/><rect x="364.3" y="530" width="13.6" height="5.3" fill="#151515"/>
<rect x="416.5" y="531.2" width="21.3" height="3" rx="1.3" fill="#9a9a9a" stroke="#777" stroke-width="0.5"/>
<g fill="none" stroke="#3a3a3a" stroke-width="1"><circle cx="380" cy="551.3" r="15.7"/><rect x="368" y="557.6" width="31.6" height="23.6" fill="#fff"/><rect x="364.7" y="560.8" width="3.3" height="8.9"/><rect x="364.7" y="571" width="3.3" height="8.6"/><rect x="399.6" y="560.8" width="3.3" height="8.9"/><rect x="399.6" y="571" width="3.3" height="8.6"/></g>
<circle cx="399.3" cy="540.8" r="4" fill="#aaa" stroke="#444" stroke-width="0.9"/>
<g fill="none" stroke="#3a3a3a" stroke-width="1.1"><path d="M526 416.7 H571.7"/><path d="M526 429.8 H571.7"/><path d="M526 442.7 H571.7"/><path d="M526 456.2 H571.7"/><path d="M526 469.2 H571.7"/><path d="M526 476.9 H550.5 l1 -2.5 l1.4 5 l1 -2.5 H571.7"/><path d="M570.2 416.7 V476.9 M571.7 416.7 V476.9"/><path d="M549.5 395.7 V432 M551.6 395.7 V412.2"/></g>
<path d="M547 430.2 H552.2 L549.6 443.7 Z" fill="#222"/>
<path fill="none" stroke="#8a8a8a" stroke-width="1" stroke-dasharray="6 3.8" d="M578.5 418.2 H621 M578.5 431.3 H621 M578.5 444.5 H621 M578.5 457.5 H621 M578.5 470.3 H621 M526 483.2 H621 M526 496.3 H621 M526 545.8 H621 M572.8 477 V545.8"/>
<circle cx="589.3" cy="459.5" r="9.2" fill="none" stroke="#3a3a3a" stroke-width="1"/>
<g fill="none" stroke="#3a3a3a" stroke-width="1"><rect x="630.4" y="435.2" width="19" height="88"/><rect x="638" y="449" width="3.3" height="57.6"/></g>
<g fill="#fff" stroke="#444" stroke-width="0.9"><path d="M741.5 301.3 Q746 301 745.4 307 L744.8 317.5 L745.4 328 Q746 334 741.5 333.7 Q737.8 331 738.3 317.5 Q737.8 304 741.5 301.3 Z"/><rect x="735" y="313.8" width="86.7" height="6.6" rx="3.3"/><path d="M804 309 L809 303 L812 306 L816.5 314 M804 325.5 L809 331.5 L812 328.5 L816.5 320.5"/><path d="M751 309 L763 308.5 L764.2 312 V322.5 L763 326 L751 325.5 L749.6 322 V312.5 Z"/><path d="M753 310.5 L761.5 310 V324.5 L753 324 Z"/><path d="M758 309 Q759 304 768 303.5 M758 325.5 Q759 330.5 768 331" fill="none"/><ellipse cx="777.5" cy="317.2" rx="1.3" ry="9"/><rect x="795" y="300.8" width="14.2" height="3.8" rx="1.9"/><rect x="795" y="329.2" width="14.2" height="3.8" rx="1.9"/><ellipse cx="796.7" cy="317.1" rx="6.7" ry="10"/></g>
<path d="M736.5 314.5 V320 M744 314.5 V320" stroke="#333" stroke-width="1"/><path d="M765 315.5 H777 M765 318.5 H777" stroke="#666" stroke-width="0.6"/>
<g fill="#fff" stroke="#555" stroke-width="0.9"><rect x="768.2" y="369.3" width="2.8" height="39.3"/><rect x="790.4" y="369.3" width="3.1" height="39.3"/><rect x="771" y="387.1" width="19.4" height="3.7"/><rect x="755.6" y="374.3" width="49.9" height="3.3" rx="1.5"/><rect x="755.6" y="400.4" width="49.9" height="3.3" rx="1.5"/></g>
<g fill="#8a8a8a" stroke="#444" stroke-width="0.7"><rect x="760.2" y="369.3" width="3.3" height="13.2" rx="0.8"/><rect x="797.6" y="369.3" width="3.3" height="13.2" rx="0.8"/><rect x="760.2" y="395.4" width="3.3" height="13.2" rx="0.8"/><rect x="797.6" y="395.4" width="3.3" height="13.2" rx="0.8"/><rect x="758" y="373" width="2.2" height="5.8"/><rect x="800.9" y="373" width="2.2" height="5.8"/><rect x="758" y="399" width="2.2" height="5.8"/><rect x="800.9" y="399" width="2.2" height="5.8"/></g>
<g fill="none" stroke="#3a3a3a" stroke-width="1"><path d="M713.4 412.9 H832 V565.2 H784.9 V459.7 H713.4 Z"/><path d="M713.4 419.9 H823.6 V565.2 M713.4 424.5 H819 V565.2"/><path d="M749.3 424.5 V459.7 M784.9 424.5 V459.7 M784.9 459.7 H819 M784.9 494.9 H819 M784.9 530 H819"/></g>
<g fill="none" stroke="#3a3a3a" stroke-width="1"><path d="M681.7 537.4 L715.4 544.6 L707.4 579.6 L674 572.4 Z"/><path d="M680.9 540.8 L714.6 548 M680.3 543.5 L714 550.7"/></g>
<path fill="none" stroke="#444" stroke-width="1" stroke-dasharray="4 2.5" d="M687.1 569.4 L693.7 600.5 M700.9 566.5 L707.4 598.1"/>
<circle cx="693.3" cy="565.3" r="7.2" fill="#fff" stroke="#333" stroke-width="1"/>
<circle cx="693.3" cy="565.3" r="5.3" fill="#fff" stroke="#333" stroke-width="0.8"/>
<path d="M693.3 560.3 A5 5 0 0 1 693.3 570.3 A2.5 2.5 0 0 1 693.3 565.3 A2.5 2.5 0 0 0 693.3 560.3 Z" fill="#555" transform="rotate(-30 693.3 565.3)"/>
<circle cx="700.5" cy="602.9" r="7.2" fill="#fff" stroke="#333" stroke-width="1"/>
<circle cx="700.5" cy="602.9" r="5.3" fill="#fff" stroke="#333" stroke-width="0.8"/>
<path d="M700.5 597.9 A5 5 0 0 1 700.5 607.9 A2.5 2.5 0 0 1 700.5 602.9 A2.5 2.5 0 0 0 700.5 597.9 Z" fill="#555" transform="rotate(-30 700.5 602.9)"/>
<g font-family="Liberation Sans, sans-serif"><text x="1024" y="623.8" font-size="19.6" textLength="84.5" lengthAdjust="spacingAndGlyphs" fill="#666" stroke="#666" stroke-width="0.9">DESSINS</text><text x="1025.2" y="623.2" font-size="19.6" textLength="84.5" lengthAdjust="spacingAndGlyphs" fill="#fff">DESSINS</text><text x="995.2" y="643.6" font-size="19.6" textLength="113.3" lengthAdjust="spacingAndGlyphs" fill="#666" stroke="#666" stroke-width="0.9">DRUMMOND</text><text x="996.4" y="643" font-size="19.6" textLength="113.3" lengthAdjust="spacingAndGlyphs" fill="#fff">DRUMMOND</text></g>
<text x="995" y="655" font-family="Liberation Serif, serif" font-size="7.6" textLength="111.7" lengthAdjust="spacingAndGlyphs" fill="#777">©TOUS DROITS RÉSERVÉS</text>
<g fill="none" stroke="#555" stroke-width="1.4"><path d="M1115.6 639.8 L1127.4 638 V611.3 L1143 609.2"/><path d="M1115.6 646.3 H1141 Q1157.5 646 1157.4 626 Q1157.4 620 1156.5 616" /><path d="M1156.5 616 Q1154 607 1147.5 605.6" stroke="#ccc" stroke-width="1"/></g>
<path d="M1143.3 611 V640" stroke="#ddd" stroke-width="0.8"/>
<g font-family="Liberation Sans, sans-serif" font-size="17.6" font-weight="bold"><text x="1026.8" y="677.3" textLength="63.2" lengthAdjust="spacingAndGlyphs" fill="#000">Newland</text><text x="1028.2" y="676.3" textLength="63.2" lengthAdjust="spacingAndGlyphs" fill="#fff" font-weight="normal" opacity="0.9">Newland</text><rect x="1096" y="663.8" width="2.2" height="16.2" fill="#000"/><text x="1103.8" y="677.3" textLength="49.2" lengthAdjust="spacingAndGlyphs" fill="#000">#3326</text><text x="1105.2" y="676.3" textLength="49.2" lengthAdjust="spacingAndGlyphs" fill="#fff" font-weight="normal" opacity="0.9">#3326</text></g>
<g fill="#111"><text class="b" x="373.50" y="261.8" textLength="98.50" lengthAdjust="spacingAndGlyphs">CHAMBRE #2</text><text class="d" x="389.50" y="276.4" textLength="67.00" lengthAdjust="spacingAndGlyphs">12'-6" X 9'-0"</text><text class="b" x="723.00" y="261.8" textLength="97.00" lengthAdjust="spacingAndGlyphs">CHAMBRE #3</text><text class="d" x="738.50" y="276.4" textLength="65.50" lengthAdjust="spacingAndGlyphs">12'-6" X 9'-0"</text><text class="d" x="375.50" y="355" textLength="60.00" lengthAdjust="spacingAndGlyphs">6'-4" X 6'-6"</text><text class="b" x="650.00" y="350.5" textLength="76.00" lengthAdjust="spacingAndGlyphs">COIN GYM</text><text class="d" x="651.00" y="365.1" textLength="73.00" lengthAdjust="spacingAndGlyphs">13'-2" X 7'-10"</text><text class="d" x="416.50" y="419.3" textLength="35.00" lengthAdjust="spacingAndGlyphs">CHUTE</text><text class="d" x="416.50" y="435.8" textLength="40.50" lengthAdjust="spacingAndGlyphs">À LINGE</text><text class="b" x="415.00" y="470" textLength="73.50" lengthAdjust="spacingAndGlyphs">SALLE DE</text><text class="b" x="420.50" y="488" textLength="61.50" lengthAdjust="spacingAndGlyphs">LAVAGE</text><text class="d" x="421.50" y="503.1" textLength="60.00" lengthAdjust="spacingAndGlyphs">9'-8" X 8'-2"</text><text class="b" x="694.00" y="484" textLength="48.00" lengthAdjust="spacingAndGlyphs">SALLE</text><text class="b" x="677.50" y="502.3" textLength="80.00" lengthAdjust="spacingAndGlyphs">FAMILIALE</text><text class="d" x="678.50" y="516.9" textLength="79.00" lengthAdjust="spacingAndGlyphs">13'-2" X 11'-10"</text><text class="d" x="412.00" y="565.6" textLength="60.00" lengthAdjust="spacingAndGlyphs">7'-4" X 3'-0"</text><text class="b" x="523.50" y="578.5" textLength="96.00" lengthAdjust="spacingAndGlyphs">RANGEMENT</text><text class="d" x="539.50" y="593.1" textLength="65.00" lengthAdjust="spacingAndGlyphs">10'-8" X 4'-4"</text><text class="d" x="719.00" y="560.8" textLength="34.00" lengthAdjust="spacingAndGlyphs">POÊLE</text><text class="d" x="720.50" y="576.8" textLength="33.50" lengthAdjust="spacingAndGlyphs">À BOIS</text></g>
</svg>
</body></html>
